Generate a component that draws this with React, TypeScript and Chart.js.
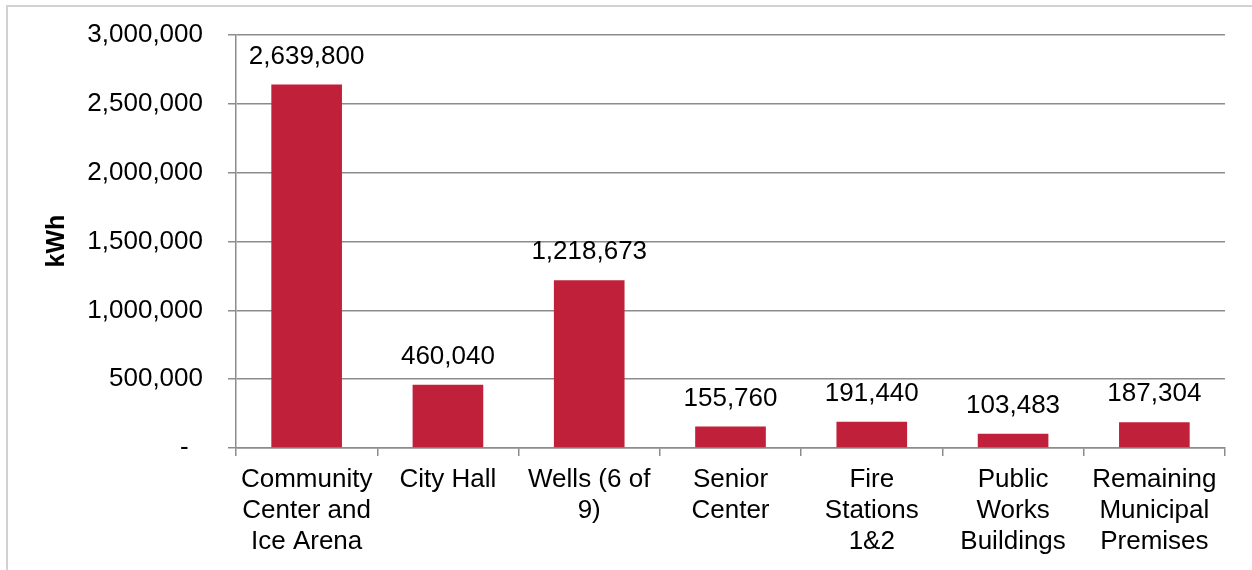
import React, { useEffect, useRef } from "react";
import { Chart, registerables } from "chart.js";

Chart.register(...registerables);

const categories: (string | string[])[] = [
  ["Community", "Center and", "Ice Arena"],
  "City Hall",
  ["Wells (6 of", "9)"],
  ["Senior", "Center"],
  ["Fire", "Stations", "1&2"],
  ["Public", "Works", "Buildings"],
  ["Remaining", "Municipal", "Premises"],
];
const kwhValues: number[] = [2639800, 460040, 1218673, 155760, 191440, 103483, 187304];
const yTicks: number[] = [0, 500000, 1000000, 1500000, 2000000, 2500000, 3000000];
const axisTitle = "kWh";

const FONT = "'Liberation Sans', Arial, Helvetica, sans-serif";

const fmt = (v: number) => v.toLocaleString("en-US");

const extrasPlugin = {
  id: "extras",
  beforeDraw(chart: any) {
    const ctx = chart.ctx;
    ctx.save();
    ctx.strokeStyle = "#d2d2d2";
    ctx.lineWidth = 2;
    ctx.beginPath();
    ctx.moveTo(7, 570);
    ctx.lineTo(7, 6);
    ctx.lineTo(1252, 6);
    ctx.stroke();
    ctx.restore();
  },
  afterDatasetsDraw(chart: any) {
    const ctx = chart.ctx;
    const meta = chart.getDatasetMeta(0);
    ctx.save();
    ctx.fillStyle = "#000";
    ctx.font = `26px ${FONT}`;
    ctx.textAlign = "center";
    ctx.textBaseline = "middle";
    meta.data.forEach((bar: any, i: number) => {
      ctx.fillText(fmt(kwhValues[i]), bar.x, bar.y - 28);
    });
    ctx.save();
    ctx.translate(57, 241);
    ctx.rotate(-Math.PI / 2);
    ctx.font = `bold 25px ${FONT}`;
    ctx.fillText(axisTitle, 0, 0);
    ctx.restore();
    ctx.restore();
  },
};

export default function App() {
  const ref = useRef<HTMLCanvasElement | null>(null);
  useEffect(() => {
    document.body.style.margin = "0";
    const canvas = ref.current!;
    const chart = new Chart(canvas, {
      type: "bar",
      data: {
        labels: categories,
        datasets: [
          {
            data: kwhValues,
            backgroundColor: "#C02039",
            borderWidth: 0,
            categoryPercentage: 1,
            barPercentage: 0.5,
          },
        ],
      },
      options: {
        responsive: false,
        animation: false,
        devicePixelRatio: 1,
        layout: { padding: { top: 35, right: 27, left: 0, bottom: 0 } },
        plugins: { legend: { display: false }, tooltip: { enabled: false }, title: { display: false } },
        scales: {
          x: {
            offset: true,
            grid: {
              offset: true,
              drawOnChartArea: false,
              drawTicks: true,
              tickLength: 8,
              color: "#8c8c8c",
              lineWidth: 1.5,
            },
            border: { color: "#8c8c8c", width: 1.5 },
            ticks: {
              color: "#000",
              font: { family: FONT, size: 26, lineHeight: 1.2 },
              padding: 8,
              maxRotation: 0,
              autoSkip: false,
            },
            afterFit(scale: any) {
              scale.height = 122;
            },
          },
          y: {
            min: 0,
            max: 3000000,
            afterBuildTicks(scale: any) {
              scale.ticks = yTicks.map((v) => ({ value: v }));
            },
            grid: {
              color: "#8c8c8c",
              lineWidth: 1.5,
              tickLength: 8,
              drawTicks: true,
            },
            border: { color: "#8c8c8c", width: 1.5 },
            ticks: {
              color: "#000",
              font: { family: FONT, size: 26 },
              padding: 25,
              callback: (v: any) => (Number(v) === 0 ? "-  " : fmt(Number(v))),
            },
            afterFit(scale: any) {
              scale.width = 236;
              scale.paddingTop = 16;
              scale.paddingBottom = 16;
            },
          },
        },
      },
      plugins: [extrasPlugin],
    });
    return () => chart.destroy();
  }, []);
  return (
    <div style={{ position: "absolute", left: 0, top: 0, width: 1252, height: 570, background: "#fff" }}>
      <canvas ref={ref} width={1252} height={570} style={{ display: "block" }} />
    </div>
  );
}
